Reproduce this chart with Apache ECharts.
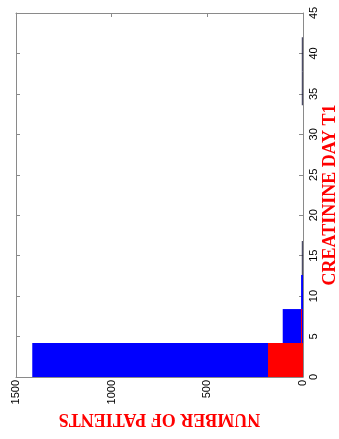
<!DOCTYPE html>
<html>
<head>
<meta charset="utf-8">
<script src="https://cdn.jsdelivr.net/npm/echarts@6/dist/echarts.min.js"></script>
<style>
  html, body { margin: 0; padding: 0; background: #fff; }
  #chart { width: 339px; height: 439px; }
</style>
</head>
<body>
<div id="chart"></div>
<script>
  // histogram bins (creatinine day T1)
  var binLow  = [0, 4.2, 8.4, 12.6, 16.8, 21, 25.2, 29.4, 33.6, 37.8];
  var binHigh = [4.2, 8.4, 12.6, 16.8, 21, 25.2, 29.4, 33.6, 37.8, 42];
  // number of patients per bin
  var blueCounts = [1415, 106, 10, 1, 0, 0, 0, 0, 1, 1];
  var redCounts  = [183, 5, 0, 0, 0, 0, 0, 0, 0, 0];

  var patientTicks = [0, 500, 1000, 1500];
  var creatTicks = [0, 5, 10, 15, 20, 25, 30, 35, 40, 45];

  function toData(counts) {
    var out = [];
    for (var i = 0; i < counts.length; i++) {
      if (counts[i] > 0) out.push([binLow[i], binHigh[i], counts[i]]);
    }
    return out;
  }

  function barRenderer(color) {
    return function (params, api) {
      var lo = api.value(0), hi = api.value(1), v = api.value(2);
      var p0 = api.coord([0, lo]);
      var p1 = api.coord([v, hi]);
      var w = Math.abs(p1[0] - p0[0]);
      var thin = w < 1.5;
      return {
        type: 'rect',
        shape: {
          x: Math.min(p0[0], p1[0]) - (thin ? 1 : 0),
          y: Math.min(p0[1], p1[1]),
          width: thin ? 1 : w,
          height: Math.abs(p1[1] - p0[1])
        },
        style: { fill: thin && color === '#0000ff' ? '#222244' : color }
      };
    };
  }

  var chart = echarts.init(document.getElementById('chart'));
  var axisGray = '#8a8a8a';
  var labelFont = { fontFamily: 'Liberation Sans', fontSize: 11, color: '#000' };
  var nameFont = { fontFamily: 'Liberation Serif', fontWeight: 'bold', fontSize: 18, color: '#ff0000' };

  function frameLine() {
    return { show: true, onZero: false, lineStyle: { color: axisGray, width: 1 } };
  }
  var innerTick = { show: true, inside: true, length: 4, lineStyle: { color: axisGray } };

  chart.setOption({
    animation: false,
    grid: { left: 16, right: 36, top: 13, bottom: 62, containLabel: false, outerBoundsMode: 'none' },
    xAxis: [{
      type: 'value', inverse: true, min: 0, max: 1500, interval: 500,
      position: 'bottom',
      name: 'NUMBER OF PATIENTS', nameLocation: 'middle', nameGap: 33,
      nameRotate: 180, nameMoveOverlap: false,
      nameTextStyle: nameFont,
      axisLine: frameLine(),
      axisTick: innerTick,
      axisLabel: Object.assign({ rotate: 90, margin: 3,
        formatter: function (v) { return patientTicks.indexOf(v) >= 0 ? String(v) : ''; } }, labelFont),
      splitLine: { show: false }
    }, {
      type: 'value', inverse: true, min: 0, max: 1500, interval: 500,
      position: 'top',
      axisLine: frameLine(),
      axisTick: innerTick,
      axisLabel: { show: false },
      splitLine: { show: false }
    }],
    yAxis: [{
      type: 'value', min: 0, max: 45, interval: 5,
      position: 'right',
      name: 'CREATININE DAY T1', nameLocation: 'middle', nameGap: 18,
      nameRotate: 90, nameMoveOverlap: false,
      nameTextStyle: nameFont,
      axisLine: frameLine(),
      axisTick: innerTick,
      axisLabel: Object.assign({ rotate: 90, margin: 5,
        formatter: function (v) { return creatTicks.indexOf(v) >= 0 ? String(v) : ''; } }, labelFont),
      splitLine: { show: false }
    }, {
      type: 'value', min: 0, max: 45, interval: 5,
      position: 'left',
      axisLine: frameLine(),
      axisTick: innerTick,
      axisLabel: { show: false },
      splitLine: { show: false }
    }],
    series: [{
      type: 'custom', xAxisIndex: 0, yAxisIndex: 0,
      renderItem: barRenderer('#0000ff'),
      encode: { x: 2, y: [0, 1] },
      data: toData(blueCounts),
      z: 1
    }, {
      type: 'custom', xAxisIndex: 0, yAxisIndex: 0,
      renderItem: barRenderer('#ff0000'),
      encode: { x: 2, y: [0, 1] },
      data: toData(redCounts),
      z: 2
    }]
  });
</script>
</body>
</html>
